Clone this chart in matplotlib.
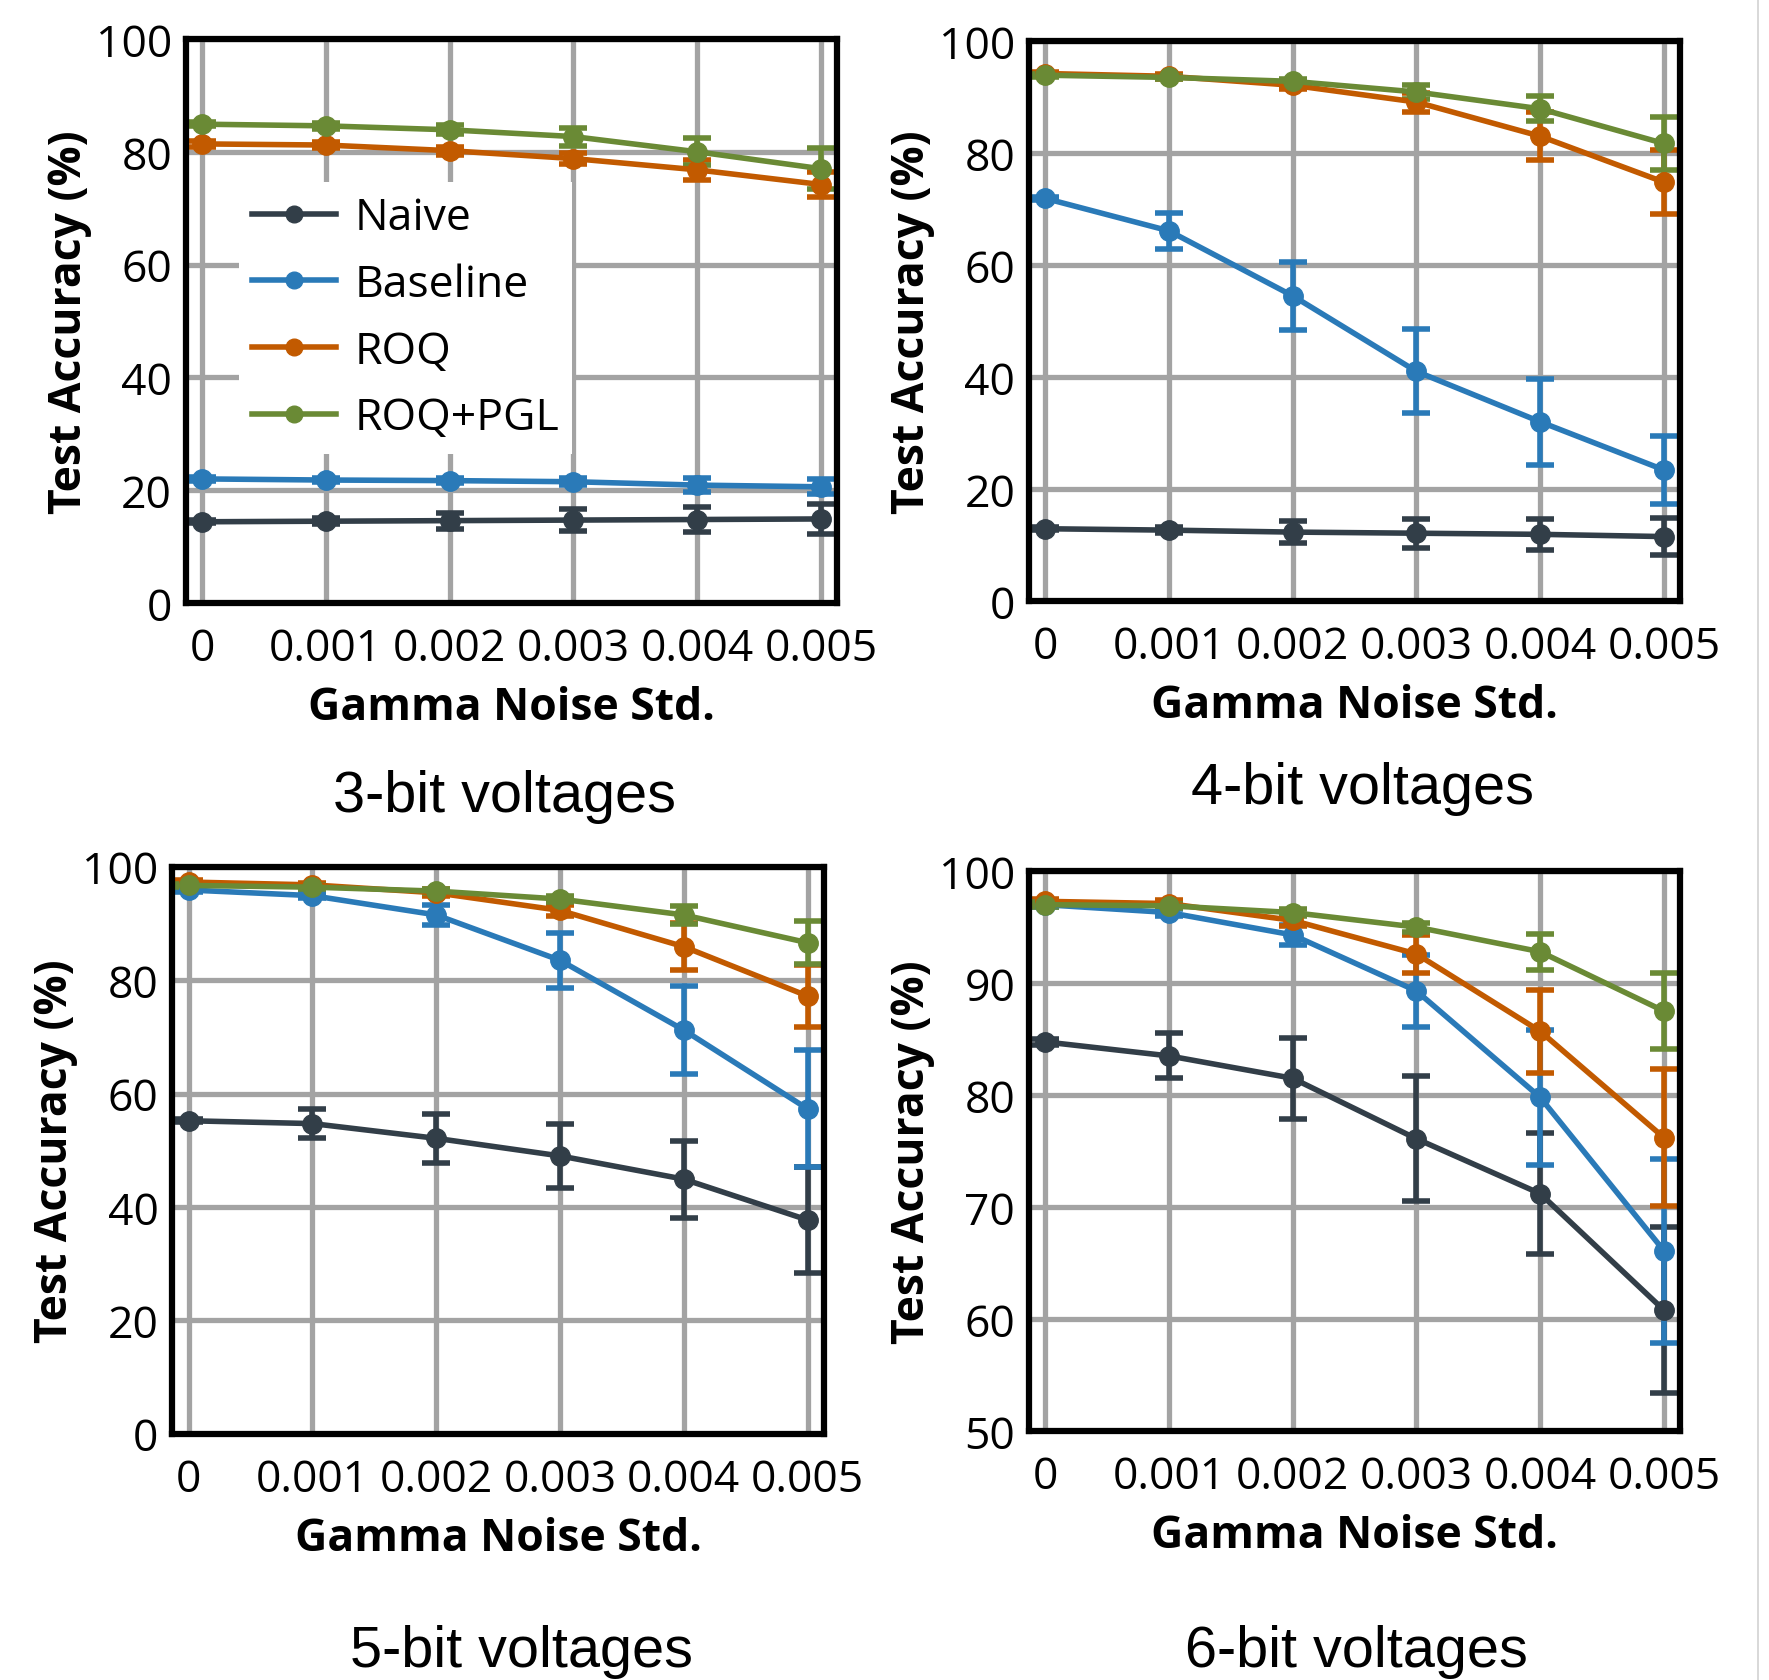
import matplotlib
matplotlib.use("Agg")
import matplotlib.pyplot as plt
from matplotlib.lines import Line2D

# ---------------- data ----------------
noise = [0, 0.001, 0.002, 0.003, 0.004, 0.005]
xtick_labels = ["0", "0.001", "0.002", "0.003", "0.004", "0.005"]
series_names = ["Naive", "Baseline", "ROQ", "ROQ+PGL"]
titles = ["3-bit voltages", "4-bit voltages", "5-bit voltages", "6-bit voltages"]

naive3 = [14.4, 14.5, 14.6, 14.7, 14.8, 14.9]
naive3_err = [0.3, 0.5, 1.4, 1.9, 2.2, 2.7]
baseline3 = [22.0, 21.8, 21.7, 21.5, 20.9, 20.6]
baseline3_err = [0.4, 0.4, 0.5, 0.6, 1.2, 1.3]
roq3 = [81.4, 81.2, 80.2, 78.8, 76.8, 74.2]
roq3_err = [0.5, 0.5, 0.7, 1.0, 1.8, 2.3]
pgl3 = [84.9, 84.6, 83.9, 82.7, 80.0, 77.0]
pgl3_err = [0.4, 0.5, 0.8, 1.6, 2.4, 3.6]

naive4 = [12.9, 12.65, 12.3, 12.1, 11.9, 11.5]
naive4_err = [0.3, 0.5, 1.9, 2.6, 2.8, 3.3]
baseline4 = [71.9, 66.1, 54.5, 41.0, 32.0, 23.4]
baseline4_err = [0.3, 3.2, 6.1, 7.5, 7.7, 6.0]
roq4 = [94.2, 93.7, 92.1, 89.1, 83.0, 74.8]
roq4_err = [0.3, 0.4, 0.7, 1.7, 4.3, 5.7]
pgl4 = [93.9, 93.5, 92.8, 90.9, 87.9, 81.7]
pgl4_err = [0.3, 0.3, 0.5, 1.2, 2.2, 4.8]

naive5 = [55.2, 54.7, 52.1, 49.0, 44.9, 37.7]
naive5_err = [0.3, 2.6, 4.3, 5.7, 6.8, 9.3]
baseline5 = [95.9, 94.9, 91.5, 83.5, 71.2, 57.3]
baseline5_err = [0.3, 0.5, 1.8, 4.8, 7.7, 10.3]
roq5 = [97.3, 96.8, 95.4, 92.3, 85.9, 77.2]
roq5_err = [0.3, 0.4, 0.6, 1.0, 4.2, 5.4]
pgl5 = [96.7, 96.4, 95.7, 94.3, 91.5, 86.6]
pgl5_err = [0.3, 0.3, 0.4, 0.6, 1.6, 3.8]

naive6 = [84.75, 83.5, 81.5, 76.1, 71.2, 60.8]
naive6_err = [0.3, 2.0, 3.6, 5.6, 5.4, 7.4]
baseline6 = [97.0, 96.3, 94.3, 89.3, 79.8, 66.1]
baseline6_err = [0.2, 0.3, 0.9, 3.2, 6.0, 8.2]
roq6 = [97.3, 97.1, 95.6, 92.6, 85.7, 76.2]
roq6_err = [0.2, 0.3, 0.5, 1.7, 3.7, 6.1]
pgl6 = [97.0, 96.9, 96.3, 95.0, 92.8, 87.5]
pgl6_err = [0.2, 0.2, 0.3, 0.4, 1.6, 3.4]

yticks_0_100 = [0, 20, 40, 60, 80, 100]
yticks_50_100 = [50, 60, 70, 80, 90, 100]

colors = ["#323e48", "#2a7ab8", "#c25a00", "#6a8a35"]

panels = [
    dict(vals=[naive3, baseline3, roq3, pgl3],
         errs=[naive3_err, baseline3_err, roq3_err, pgl3_err],
         ylim=(0, 100), yticks=yticks_0_100,
         rect=[0.1051, 0.6407, 0.3681, 0.3355], title_xy=(0.285, 0.526), legend=True),
    dict(vals=[naive4, baseline4, roq4, pgl4],
         errs=[naive4_err, baseline4_err, roq4_err, pgl4_err],
         ylim=(0, 100), yticks=yticks_0_100,
         rect=[0.5817, 0.6419, 0.3680, 0.3331], title_xy=(0.770, 0.5305), legend=False),
    dict(vals=[naive5, baseline5, roq5, pgl5],
         errs=[naive5_err, baseline5_err, roq5_err, pgl5_err],
         ylim=(0, 100), yticks=yticks_0_100,
         rect=[0.0975, 0.1465, 0.3681, 0.3373], title_xy=(0.2946, 0.0175), legend=False),
    dict(vals=[naive6, baseline6, roq6, pgl6],
         errs=[naive6_err, baseline6_err, roq6_err, pgl6_err],
         ylim=(50, 100), yticks=yticks_50_100,
         rect=[0.5817, 0.1481, 0.3680, 0.3331], title_xy=(0.7665, 0.0175), legend=False),
]

SANS = ["Open Sans", "DejaVu Sans"]
TITLE_FONT = ["Liberation Sans", "DejaVu Sans"]

fig = plt.figure(figsize=(17.69, 16.81), dpi=100)
fig.patch.set_facecolor("white")

for p, title in zip(panels, titles):
    ax = fig.add_axes(p["rect"])
    ax.set_axisbelow(True)
    ax.grid(True, color="#a3a3a3", linewidth=3.8)
    for name, v, e, c in zip(series_names, p["vals"], p["errs"], colors):
        ax.errorbar(noise, v, yerr=e, color=c, linewidth=4.0, marker="o",
                    markersize=14, capsize=10, capthick=4.0, elinewidth=4.0,
                    label=name, clip_on=True)
    ax.set_xlim(-0.00013, 0.00513)
    ax.set_ylim(*p["ylim"])
    ax.set_yticks(p["yticks"])
    ax.set_xticks(noise)
    ax.set_xticklabels(xtick_labels)
    for s in ax.spines.values():
        s.set_linewidth(4.5)
        s.set_color("black")
        s.set_zorder(5)
    ax.tick_params(axis="both", length=0, labelsize=32)
    ax.tick_params(axis="x", pad=17)
    ax.tick_params(axis="y", pad=10)
    for lab in ax.get_xticklabels() + ax.get_yticklabels():
        lab.set_fontfamily(SANS)
    ax.set_xlabel("Gamma Noise Std.", fontsize=32, fontweight="bold",
                  family=SANS, labelpad=10)
    ax.set_ylabel("Test Accuracy (%)", fontsize=32, fontweight="bold",
                  family=SANS, labelpad=3)
    fig.text(p["title_xy"][0], p["title_xy"][1], title, fontsize=41.5,
             family=TITLE_FONT, ha="center", va="center")
    if p["legend"]:
        handles = [Line2D([0], [0], color=c, linewidth=4.0, marker="o", markersize=12)
                   for c in colors]
        leg = ax.legend(handles, series_names, loc="upper left",
                        bbox_to_anchor=(0.081, 0.746), borderaxespad=0,
                        frameon=True, fancybox=False, framealpha=1,
                        facecolor="white", edgecolor="none",
                        prop={"family": SANS, "size": 32},
                        handlelength=1.9, handletextpad=0.4, labelspacing=0.5,
                        borderpad=0.3)
        leg.set_zorder(4)

# thin border line at the right edge of the image
fig.add_artist(Line2D([0.9935, 0.9935], [0.0, 1.0], color="#d2d2d2", linewidth=1.2,
                      transform=fig.transFigure))

fig.savefig("out.png", dpi=100, facecolor="white")
